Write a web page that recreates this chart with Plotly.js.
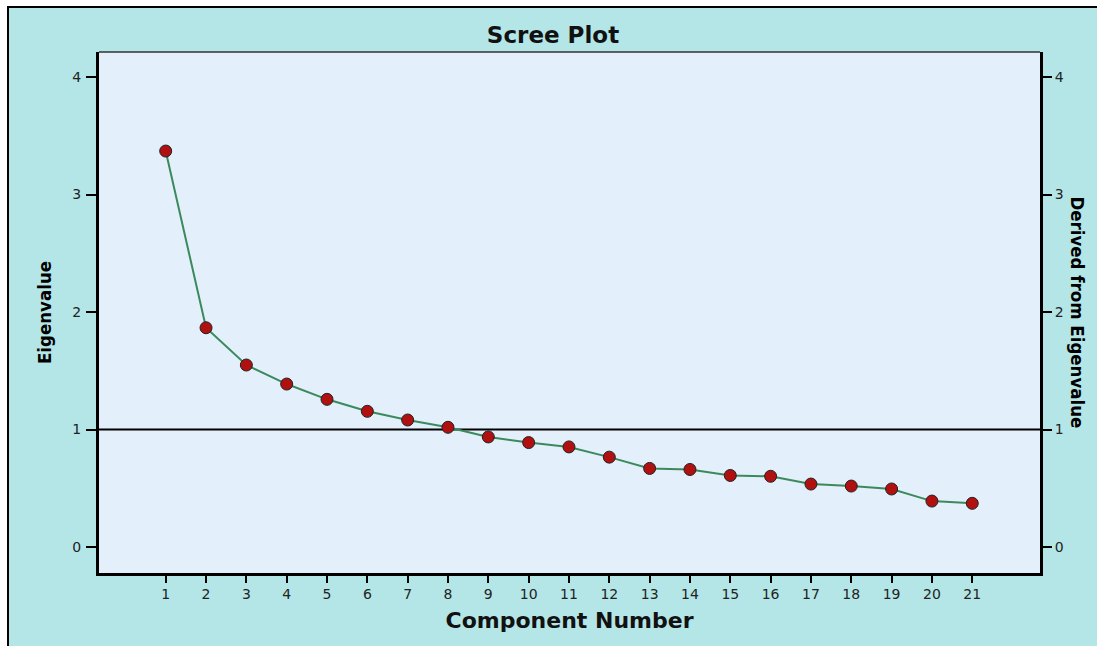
<!DOCTYPE html>
<html>
<head>
<meta charset="utf-8">
<script src="https://cdn.plot.ly/plotly-3.0.1.min.js"></script>
<style>
  html, body { margin: 0; padding: 0; background: #ffffff; }
  #frame { position: absolute; left: 7px; top: 6px; border-left: 2px solid #000; border-top: 2px solid #000; }
  #chart { width: 1088px; height: 638px; }
  #chart .ytitle, #chart .annotation-text { font-stretch: condensed; }
</style>
</head>
<body>
<div id="frame"><div id="chart"></div></div>
<script>
const components = [1,2,3,4,5,6,7,8,9,10,11,12,13,14,15,16,17,18,19,20,21];
const eigenvalues = [3.37,1.866,1.549,1.387,1.257,1.155,1.081,1.019,0.937,0.889,0.852,0.765,0.669,0.660,0.609,0.602,0.536,0.519,0.494,0.391,0.372];
const yTicks = [0,1,2,3,4];
const referenceLine = 1;

const tickFont = {family: 'DejaVu Sans, Verdana, sans-serif', size: 14, color: '#222'};
const sideBold = {family: 'DejaVu Sans, sans-serif', size: 18.5, color: '#000', weight: 'bold'};
const wideBold = {family: 'DejaVu Sans, Verdana, sans-serif', size: 22, color: '#111', weight: 'bold'};
const titleFont = {family: 'DejaVu Sans, Verdana, sans-serif', size: 23, color: '#111', weight: 'bold'};

const trace = {
  x: components, y: eigenvalues, type: 'scatter', mode: 'lines+markers',
  line: {color: '#3a8a5c', width: 2},
  marker: {color: '#b01010', size: 12, line: {color: '#222', width: 1}},
  hoverinfo: 'x+y', showlegend: false
};
const ghost = {x: [components[0]], y: [eigenvalues[0]], yaxis: 'y2', type: 'scatter', mode: 'markers', marker: {opacity: 0}, hoverinfo: 'skip', showlegend: false};

const layout = {
  width: 1088, height: 638,
  paper_bgcolor: '#b4e6e7', plot_bgcolor: '#e3effb',
  margin: {l: 90, r: 57, t: 44, b: 73},
  title: {text: 'Scree Plot', font: titleFont, x: 0.5, xref: 'container', xanchor: 'center', y: 0.958, yref: 'container', yanchor: 'middle'},
  xaxis: {
    range: [-0.654, 22.68], tickvals: components, ticktext: components.map(String),
    ticks: 'outside', ticklen: 7, tickwidth: 2, tickcolor: '#000',
    showline: true, linewidth: 3, linecolor: '#000', showgrid: false, zeroline: false,
    tickfont: tickFont, automargin: false, ticklabelstandoff: -1,
    title: {text: 'Component Number', font: wideBold, standoff: 12}
  },
  yaxis: {
    range: [-0.221, 4.213], tickvals: yTicks, ticktext: yTicks.map(String),
    ticks: 'outside', ticklen: 10, tickwidth: 2, tickcolor: '#000',
    showline: true, linewidth: 3, linecolor: '#000', showgrid: false, zeroline: false,
    tickfont: tickFont, automargin: false, ticklabelstandoff: 2,
    title: {text: 'Eigenvalue', font: sideBold, standoff: 16}
  },
  yaxis2: {
    overlaying: 'y', side: 'right', range: [-0.221, 4.213], tickvals: yTicks, ticktext: yTicks.map(String),
    ticks: 'outside', ticklen: 9, tickwidth: 2, tickcolor: '#000',
    showline: true, linewidth: 3, linecolor: '#000', showgrid: false, zeroline: false,
    tickfont: tickFont, automargin: false
  },
  shapes: [
    {type: 'line', xref: 'paper', yref: 'y', x0: 0, x1: 1, y0: referenceLine, y1: referenceLine, line: {color: '#000', width: 2}, layer: 'below'},
    {type: 'line', xref: 'paper', yref: 'paper', x0: 0, x1: 1, y0: 1, y1: 1, line: {color: '#333', width: 1.5}}
  ],
  annotations: [
    {text: 'Derived from Eigenvalue', xref: 'paper', yref: 'paper', x: 1, y: 0.5, xanchor: 'center', yanchor: 'middle', xshift: 37, textangle: 90, showarrow: false, font: sideBold}
  ]
};

Plotly.newPlot('chart', [trace, ghost], layout, {displayModeBar: false, staticPlot: true});
</script>
</body>
</html>
